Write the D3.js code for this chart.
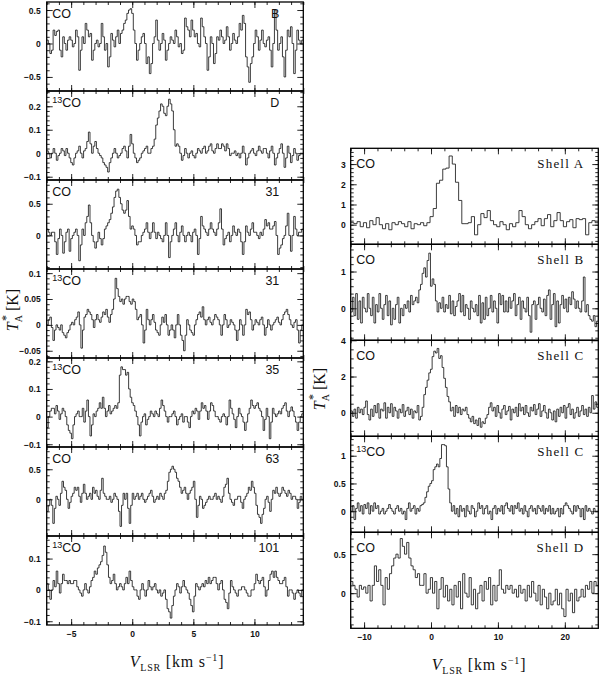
<!DOCTYPE html>
<html><head><meta charset="utf-8">
<script src="https://cdn.jsdelivr.net/npm/d3@7"></script>
<style>
body{margin:0;background:#fff;}
svg{display:block;}
.tl{font-family:"Liberation Sans",Arial,sans-serif;font-weight:bold;font-size:8.5px;fill:#111;}
.lab{font-family:"Liberation Sans",Arial,sans-serif;font-size:12.5px;fill:#111;}
.shell{font-family:"Liberation Serif","Times New Roman",serif;font-size:13px;letter-spacing:1.2px;fill:#111;}
.ttl{font-family:"Liberation Serif","Times New Roman",serif;font-size:16px;fill:#111;}
</style></head>
<body>
<svg id="c" width="600" height="678"></svg>
<script>
// ---------------- DATA ----------------
const leftVRange = [-7, 14];
const rightVRange = [-12, 25];
const leftXTicks = [-5, 0, 5, 10];
const rightXTicks = [-10, 0, 10, 20];

const spec_CO_B = [0.05,0.0,-0.15,-0.1,0.2,0.12,0.18,0.2,-0.1,-0.2,0.1,0.0,-0.1,0.05,0.1,0.05,-0.05,0.0,0.2,0.1,-0.4,-0.1,0.1,0.0,0.3,0.2,0.1,0.15,-0.25,-0.1,0.0,0.05,-0.05,0.0,0.3,0.1,-0.1,0.0,-0.35,-0.2,0.15,0.05,-0.05,0.1,0.2,0.0,0.15,0.2,0.3,0.35,0.45,0.5,0.52,0.45,0.2,0.0,-0.25,-0.1,0.0,0.1,0.15,0.0,-0.3,-0.2,-0.45,-0.3,0.0,0.1,0.35,0.05,-0.1,0.0,0.15,0.05,-0.25,-0.1,0.0,0.1,0.05,0.0,0.2,0.1,-0.05,0.0,-0.15,-0.1,0.38,0.25,0.2,0.1,0.35,0.2,0.1,0.15,0.0,-0.05,0.38,0.25,0.1,0.0,-0.4,-0.2,0.1,0.0,-0.3,-0.15,0.1,0.05,0.2,0.1,0.0,0.05,0.25,0.1,-0.1,0.0,0.15,0.05,0.0,0.1,0.3,0.2,0.42,0.3,-0.2,-0.35,-0.58,-0.3,-0.2,0.0,0.2,0.1,-0.1,0.05,0.2,0.0,-0.05,0.05,0.1,-0.1,-0.35,0.0,0.5,0.2,-0.1,0.0,0.1,-0.2,-0.5,-0.1,0.2,0.1,0.25,0.0,-0.45,-0.1,0.2,0.05,0.0,0.05];
const spec_13CO_D = [0.01,0.0,-0.02,0.0,0.02,0.0,-0.03,-0.01,0.0,0.02,0.01,-0.01,0.02,0.0,-0.02,-0.04,-0.05,-0.02,0.0,0.01,0.03,0.0,-0.02,0.01,0.02,0.05,0.09,0.04,0.0,0.03,0.05,0.02,0.0,-0.01,-0.02,-0.04,-0.05,-0.06,-0.08,-0.04,-0.02,0.0,0.02,0.0,-0.02,-0.01,0.0,0.02,0.03,0.01,-0.02,0.03,0.08,0.04,0.0,-0.02,-0.04,-0.03,-0.02,0.0,0.01,0.02,0.03,0.0,0.0,0.02,0.03,0.06,0.12,0.15,0.18,0.21,0.2,0.17,0.16,0.2,0.23,0.21,0.18,0.1,0.03,0.04,0.03,0.0,-0.03,-0.01,0.02,0.0,-0.02,0.0,0.01,-0.01,-0.02,0.0,0.02,0.01,0.0,0.02,0.03,0.0,0.01,0.03,0.04,0.01,0.0,0.02,0.04,0.02,0.02,0.04,0.03,0.01,0.04,0.02,-0.01,0.0,0.0,0.01,-0.01,0.0,-0.02,0.0,0.03,0.0,-0.05,-0.02,0.0,0.01,0.02,0.0,-0.01,0.01,0.03,0.01,0.0,0.02,0.02,0.0,-0.02,0.01,0.03,0.0,-0.05,-0.02,0.0,0.02,0.04,0.0,-0.06,-0.02,0.03,0.0,-0.04,-0.01,0.02,0.0,-0.03,-0.01,0.0,0.0];
const spec_CO_31 = [0.1,0.05,0.0,0.05,0.05,-0.1,-0.3,-0.05,0.1,0.0,-0.28,-0.1,0.05,0.1,-0.25,-0.05,0.0,0.05,0.1,0.0,-0.4,-0.15,0.1,0.0,0.2,0.3,0.48,0.2,0.0,-0.1,-0.2,-0.1,0.05,-0.05,-0.15,-0.05,0.1,0.15,0.2,0.25,0.35,0.45,0.6,0.7,0.73,0.6,0.5,0.4,0.35,0.4,0.55,0.3,0.1,0.15,0.1,0.0,-0.15,-0.1,-0.1,0.0,0.05,0.1,0.2,0.05,-0.05,0.05,0.2,0.05,-0.05,0.05,0.0,-0.05,-0.1,0.0,0.2,0.0,-0.35,-0.1,0.0,0.1,0.2,0.0,-0.1,0.05,0.15,0.0,-0.1,0.0,0.05,0.0,-0.1,0.05,0.1,0.0,-0.3,-0.05,0.3,0.15,0.1,0.05,0.0,0.1,0.2,0.1,0.05,0.0,0.1,0.2,0.42,0.1,-0.15,-0.05,0.0,0.05,-0.1,0.0,0.15,0.05,0.0,0.1,0.05,-0.1,-0.3,-0.1,0.15,0.05,0.0,0.1,0.2,0.05,0.05,0.0,-0.05,0.05,0.0,0.1,0.25,0.15,0.2,0.1,0.1,0.15,0.22,0.0,-0.3,-0.2,-0.15,-0.05,0.0,0.15,0.35,0.0,-0.25,0.0,0.3,0.1,0.0,0.05,0.05,0.1];
const spec_13CO_31 = [0.0,0.01,0.015,-0.005,-0.03,-0.01,0.0,-0.005,-0.01,0.0,-0.015,-0.02,-0.025,-0.015,-0.01,0.0,0.005,0.0,0.01,0.015,0.025,0.0,-0.045,-0.01,0.015,0.02,0.03,0.025,0.02,0.01,-0.005,0.01,0.02,0.01,0.005,0.015,0.025,0.02,0.03,0.015,0.005,0.02,0.03,0.05,0.09,0.07,0.055,0.045,0.05,0.04,0.05,0.055,0.055,0.045,0.04,0.05,0.045,0.03,0.01,0.015,0.02,0.0,-0.035,-0.01,0.03,0.01,0.0,0.01,0.02,0.005,-0.01,-0.015,-0.02,0.0,0.015,0.005,0.02,0.0,-0.02,-0.01,0.0,-0.01,-0.025,0.0,0.02,0.0,-0.02,-0.03,-0.05,-0.02,0.01,0.0,-0.01,-0.015,-0.02,0.0,0.01,0.02,0.025,0.015,0.035,0.01,0.0,0.01,0.015,0.005,0.0,0.01,0.02,0.015,0.01,0.0,-0.02,0.0,0.02,0.01,-0.005,0.0,0.01,0.005,0.0,-0.01,-0.03,-0.01,0.01,0.0,-0.02,0.0,0.03,0.02,0.025,0.01,-0.01,0.0,0.01,0.005,0.0,0.01,0.015,0.0,-0.02,-0.005,0.01,0.0,-0.01,0.0,0.005,0.01,0.015,0.005,0.0,0.01,0.02,0.025,0.03,0.02,0.01,0.0,-0.005,0.005,0.01,-0.01,-0.035,-0.01,0.0];
const spec_13CO_35 = [-0.04,0.0,0.02,0.03,0.03,0.01,0.04,0.02,-0.01,0.01,0.03,0.02,0.0,-0.03,-0.05,-0.06,-0.08,-0.03,0.0,0.01,0.02,0.0,0.0,0.03,-0.02,0.02,0.06,0.0,-0.07,-0.03,0.01,0.0,0.02,0.03,0.05,0.03,0.07,0.03,0.0,0.02,0.04,0.01,0.02,0.03,0.04,0.03,0.05,0.15,0.18,0.17,0.17,0.15,0.16,0.1,0.07,0.05,0.04,0.02,0.0,-0.03,-0.07,-0.02,0.0,0.01,-0.03,-0.01,0.0,0.02,0.01,0.0,0.02,0.01,0.0,0.03,0.06,0.04,0.02,0.0,-0.02,0.0,0.0,0.01,0.02,0.0,-0.03,-0.01,0.0,0.01,-0.02,0.0,0.0,-0.02,-0.04,0.0,0.02,0.01,0.03,0.02,-0.01,0.02,0.05,0.03,0.04,0.02,-0.01,0.02,0.05,0.04,0.02,0.0,0.0,-0.01,-0.02,0.0,0.01,0.0,-0.03,0.0,0.06,0.03,0.01,-0.01,-0.04,0.0,0.03,0.01,0.0,-0.02,-0.05,-0.02,0.01,0.03,0.06,0.04,0.03,0.04,0.05,0.03,0.02,0.0,-0.05,-0.01,0.03,0.0,-0.08,-0.02,0.03,0.01,0.0,0.01,0.02,0.01,0.03,0.04,0.05,0.02,0.0,0.02,0.035,0.02,0.0,-0.02,-0.05,-0.02,0.0,0.01];
const spec_CO_63 = [-0.2,-0.1,0.0,-0.1,-0.4,-0.15,0.05,0.0,-0.1,0.1,0.3,0.2,0.15,0.0,-0.15,-0.05,0.05,0.1,0.2,0.15,0.2,0.05,-0.05,0.1,0.25,0.1,0.0,0.05,0.1,0.0,0.2,0.1,0.15,0.05,0.0,0.15,0.35,0.1,0.05,0.0,0.0,0.05,-0.05,0.0,0.1,0.05,0.0,-0.2,-0.45,-0.1,0.1,0.0,0.1,-0.15,-0.4,-0.1,0.1,0.0,0.05,0.1,0.0,0.05,0.1,0.0,-0.05,0.0,0.05,0.1,0.15,0.05,-0.05,0.0,0.05,0.0,0.1,0.05,0.0,0.1,0.15,0.3,0.45,0.5,0.55,0.5,0.45,0.35,0.3,0.2,0.1,0.15,0.2,0.1,0.0,0.1,0.15,0.2,0.3,0.0,-0.3,-0.1,0.05,0.0,-0.15,-0.1,-0.05,0.0,0.05,0.0,0.0,0.05,0.1,0.0,0.05,0.0,-0.05,0.05,0.2,0.25,0.35,0.1,0.0,-0.05,-0.1,0.0,0.0,0.05,0.05,-0.05,-0.15,0.0,0.05,0.1,0.2,0.15,0.3,0.2,0.1,-0.1,-0.25,-0.3,-0.4,-0.25,-0.15,0.0,0.05,-0.05,-0.2,0.0,0.15,0.1,0.2,0.1,0.05,0.1,0.2,0.15,0.1,0.05,0.15,0.1,0.0,0.05,0.05,0.0,-0.15,-0.05,0.05,0.0];
const spec_13CO_101 = [0.02,0.0,-0.03,0.0,0.03,0.01,0.06,0.02,-0.01,0.02,0.05,0.03,0.03,0.02,0.03,0.02,0.02,0.03,0.03,0.01,0.0,-0.01,-0.02,0.0,0.02,0.0,-0.01,0.01,0.03,0.04,0.06,0.05,0.07,0.08,0.09,0.11,0.14,0.12,0.08,0.04,0.02,0.03,0.05,0.02,0.0,0.01,0.02,0.01,0.0,0.02,0.04,0.02,0.06,0.03,0.01,0.0,0.0,-0.02,-0.03,0.0,0.02,0.0,-0.02,0.0,0.03,0.01,0.0,0.01,0.02,0.0,-0.01,0.0,-0.02,-0.01,0.0,-0.03,-0.06,-0.07,-0.09,-0.05,-0.02,0.0,0.02,0.01,-0.01,0.01,0.03,0.01,0.0,-0.01,-0.03,-0.05,-0.07,-0.02,0.02,0.01,0.0,0.01,0.02,0.01,0.03,0.02,0.04,0.02,0.03,0.04,0.04,0.02,0.0,0.02,0.03,0.0,-0.03,-0.04,-0.06,-0.01,0.03,0.01,0.0,-0.01,-0.02,0.0,0.0,0.01,0.01,0.0,-0.01,-0.02,-0.02,0.0,0.0,0.02,0.05,0.03,0.02,0.03,0.04,0.01,-0.02,0.0,0.03,0.05,0.06,0.04,0.06,0.04,0.03,0.02,0.02,0.03,0.04,0.01,-0.02,0.0,0.0,-0.01,-0.03,-0.01,0.0,-0.01,-0.02,0.0];

const spec_CO_ShellA = [0.1,0.05,0.15,-0.1,0.1,-0.15,0.2,0.0,0.35,0.0,-0.2,0.05,-0.25,0.1,0.0,0.15,0.05,-0.1,0.15,-0.2,0.05,0.0,0.1,-0.05,0.1,0.4,0.8,2.05,2.2,2.75,2.8,3.4,3.0,2.1,1.2,0.05,0.05,0.1,0.4,-0.5,0.0,0.55,0.35,0.7,0.2,0.0,-0.1,0.15,0.0,-0.25,0.05,-0.1,0.1,0.7,0.4,0.0,-0.2,0.0,0.15,0.3,-0.05,0.3,0.5,-0.1,0.2,0.6,0.2,-0.1,0.15,0.25,-0.15,0.3,0.25,0.3,-0.5,0.1,0.2,0.1];
const spec_CO_ShellB = [-0.1,0.3,-0.2,0.4,-0.3,0.2,-0.4,0.3,0.0,-0.1,0.4,0.0,-0.2,0.3,-0.4,0.1,-0.1,0.4,0.0,-0.3,0.1,0.35,-0.2,0.2,-0.45,0.0,-0.3,0.1,0.3,-0.4,0.0,-0.2,0.1,0.0,0.2,-0.1,0.35,0.1,0.2,0.3,0.15,0.5,0.65,0.95,1.1,0.85,1.3,1.5,0.6,0.8,0.65,0.2,-0.1,0.15,0.0,0.3,-0.1,0.1,0.0,0.35,-0.15,0.2,-0.2,0.05,0.2,0.4,-0.1,0.35,-0.2,0.1,0.0,-0.3,0.2,0.0,-0.1,0.1,-0.2,0.35,-0.4,0.15,-0.3,0.3,-0.2,0.0,0.35,-0.1,0.2,0.0,-0.4,0.4,0.1,0.35,-0.1,0.2,-0.1,0.3,0.0,0.2,0.4,-0.2,0.1,0.3,-0.3,0.2,0.0,-0.1,0.3,-0.2,-0.65,0.1,0.2,-0.3,0.1,0.3,0.0,-0.1,0.25,-0.2,0.35,0.5,-0.3,0.1,0.4,-0.5,0.2,-0.4,0.1,0.35,0.0,0.25,-0.1,0.3,0.1,0.45,0.25,0.0,0.2,0.0,-0.1,0.2,0.85,-0.1,0.1,-0.2,-0.3,-0.35,-0.2,-0.5,-0.35];
const spec_CO_ShellC = [0.1,-0.2,0.2,-0.3,0.3,0.0,0.2,-0.1,0.3,0.65,-0.1,-0.4,0.2,-0.2,0.4,0.0,0.5,-0.3,0.2,0.1,0.55,-0.3,0.3,0.0,0.5,-0.2,0.3,0.1,-0.3,0.2,0.0,0.45,-0.2,0.1,0.3,-0.1,0.2,-0.3,0.1,0.0,0.4,-0.4,-0.2,0.3,1.0,1.4,1.8,2.2,2.4,3.1,3.4,3.3,3.55,3.0,3.15,2.5,1.9,1.4,0.9,0.6,0.1,0.3,-0.2,0.4,0.0,0.3,-0.1,0.2,0.1,0.3,-0.1,-0.3,-0.5,-0.2,-0.6,-0.4,-0.7,-0.3,-0.8,-0.5,-0.6,-0.3,-0.1,0.3,0.55,0.1,0.3,-0.2,0.4,0.0,-0.3,0.2,0.4,-0.1,0.1,0.35,-0.4,0.2,0.0,0.3,-0.2,0.5,0.1,0.3,-0.1,0.4,0.0,-0.2,0.3,0.1,0.45,-0.1,0.2,0.5,-0.2,0.1,0.4,0.0,-0.3,0.2,0.0,-0.4,0.1,-0.5,0.2,-0.2,0.3,0.0,0.4,-0.3,0.3,0.5,-0.1,0.2,-0.3,0.0,0.3,-0.2,0.1,0.4,-0.1,0.2,-0.2,0.3,0.0,0.95,0.2,0.6,0.3];
const spec_13CO_ShellC = [0.0,0.1,-0.15,0.05,0.15,0.0,0.1,-0.05,0.12,0.05,0.15,-0.05,0.1,0.0,0.15,0.05,0.1,-0.05,0.0,0.05,-0.05,0.0,0.05,0.12,0.05,0.0,-0.05,0.05,0.1,0.0,0.05,-0.05,0.0,-0.15,0.05,0.15,0.0,0.05,0.1,-0.05,0.05,0.0,0.1,0.12,0.15,0.25,0.35,0.45,0.5,0.55,0.75,0.8,0.85,0.8,0.95,1.2,1.2,1.18,0.8,0.4,0.15,0.0,0.1,-0.05,0.05,-0.1,0.1,0.0,0.05,-0.1,0.1,0.0,-0.05,0.1,0.05,-0.1,0.0,0.15,0.05,0.1,-0.05,0.05,0.1,-0.05,0.0,-0.15,0.05,0.1,-0.05,0.05,0.0,0.1,-0.05,0.1,0.15,0.05,0.0,0.1,-0.05,0.1,0.05,0.15,0.0,0.05,-0.05,0.1,0.0,-0.1,0.05,0.1,0.0,0.05,-0.05,0.1,0.05,0.0,0.1,-0.05,0.05,0.0,0.1,-0.05,0.05,-0.05,0.0,0.05,-0.1,0.05,-0.05,0.1,0.15,0.1,0.05,0.0,-0.05,0.1,0.0,0.1,0.05,-0.1,0.05,-0.15,0.1,0.0,0.05,0.0,-0.05,0.05,0.0,0.0];
const spec_CO_ShellD = [0.15,0.1,0.05,-0.05,0.1,0.05,0.08,0.0,0.1,-0.1,0.1,0.35,0.15,0.3,0.1,-0.15,0.2,0.05,0.25,0.35,0.45,0.5,0.45,0.7,0.6,0.5,0.65,0.45,0.35,0.3,0.2,0.25,0.1,0.1,0.25,0.0,0.05,0.2,0.0,0.15,-0.2,0.05,0.2,-0.05,0.1,-0.1,0.05,-0.15,0.1,-0.05,0.15,-0.2,0.25,0.0,-0.05,0.2,-0.15,0.05,-0.2,0.0,0.1,-0.1,0.15,0.05,0.2,-0.15,0.1,-0.1,0.1,0.3,0.05,0.0,0.1,0.05,0.1,0.0,0.05,-0.05,0.1,0.0,0.05,-0.1,0.1,-0.05,0.15,0.0,-0.1,0.1,-0.15,0.05,-0.05,-0.2,0.0,-0.15,-0.1,0.05,-0.15,0.0,-0.2,-0.3,0.05,-0.1,0.0,-0.25,0.05,-0.1,-0.05,0.05,-0.05,0.1,0.05,0.15,0.0,0.15,0.1];

// panel descriptors: iso label, source label, y-range, major y ticks, minor step
const leftIso   = ["CO","13CO","CO","13CO","13CO","CO","13CO"];
const leftName  = ["B","D","31","31","35","63","101"];
const leftSpec  = [spec_CO_B, spec_13CO_D, spec_CO_31, spec_13CO_31, spec_13CO_35, spec_CO_63, spec_13CO_101];
const leftYRange = [[-0.71,0.62],[-0.114,0.265],[-0.53,0.875],[-0.064,0.108],[-0.11,0.212],[-0.61,0.87],[-0.112,0.172]];
const leftYTicks = [[-0.5,0,0.5],[-0.1,0,0.1,0.2],[0,0.5],[-0.05,0,0.05,0.1],[-0.1,0,0.1,0.2],[0,0.5],[-0.1,0,0.1]];
const leftYMinor = [0.1,0.02,0.1,0.01,0.02,0.1,0.02];

const rightIso  = ["CO","CO","CO","13CO","CO"];
const rightName = ["Shell A","Shell B","Shell C","Shell C","Shell D"];
const rightSpec = [spec_CO_ShellA, spec_CO_ShellB, spec_CO_ShellC, spec_13CO_ShellC, spec_CO_ShellD];
const rightYRange = [[-0.97,3.78],[-0.87,1.74],[-1.3,4.0],[-0.38,1.35],[-0.45,0.78]];
const rightYTicks = [[0,1,2,3],[0,1],[0,2,4],[0,0.5,1],[0,0.5]];
const rightYMinor = [0.2,0.2,0.5,0.1,0.1];

// ---------------- LAYOUT ----------------
const svg = d3.select("#c");
const L = {x0:46.7, x1:303.3, top:2, h:89, minorX:1, labX:5.5, labY:16, nameOff:24};
const R = {x0:350.7, x1:598.3, top:148.3, h:96, minorX:2, labX:5.5, labY:20, nameOff:14};

function fmt(v){ return v===0 ? "0" : (v<0 ? "\u2212"+String(Math.abs(v)) : String(v)); }

function column(C, vRange, xTicks, isoL, nameL, specs, yR, yT, yM, cls){
  const x = d3.scaleLinear().domain(vRange).range([C.x0, C.x1]);
  const xMinor = d3.range(Math.ceil(vRange[0]/C.minorX)*C.minorX, vRange[1]+1e-9, C.minorX);
  specs.forEach((spec, i) => {
    const top = C.top + i*C.h, bot = top + C.h;
    const y = d3.scaleLinear().domain(yR[i]).range([bot, top]);
    const g = svg.append("g");
    const cid = "clip"+cls+i;
    g.append("clipPath").attr("id", cid).append("rect")
      .attr("x", C.x0).attr("y", top).attr("width", C.x1-C.x0).attr("height", C.h);
    // spectrum as histogram steps
    const n = spec.length, dv = (vRange[1]-vRange[0])/n;
    const pts = spec.map((t, k) => [vRange[0]+k*dv, t]);
    pts.push([vRange[1], spec[n-1]]);
    const line = d3.line().x(d => x(d[0])).y(d => y(d[1])).curve(d3.curveStepAfter);
    g.append("path").attr("clip-path", `url(#${cid})`).attr("d", line(pts))
      .attr("fill","none").attr("stroke","#1a1a1a").attr("stroke-width",0.85);
    // axes (inward ticks on all four sides)
    const yMin = d3.range(Math.ceil(yR[i][0]/yM[i]-1e-9)*yM[i], yR[i][1], yM[i]).filter(v => v>yR[i][0] && v<yR[i][1]);
    const mk = (ax) => ax.call(s => s.select(".domain").remove()).call(s => s.selectAll("line").attr("stroke","#111").attr("stroke-width",0.9));
    mk(g.append("g").attr("transform",`translate(0,${bot})`).call(d3.axisBottom(x).tickValues(xMinor).tickSize(-3).tickFormat("")));
    mk(g.append("g").attr("transform",`translate(0,${top})`).call(d3.axisTop(x).tickValues(xMinor).tickSize(-3).tickFormat("")));
    mk(g.append("g").attr("transform",`translate(0,${bot})`).call(d3.axisBottom(x).tickValues(xTicks).tickSize(-6).tickFormat("")));
    mk(g.append("g").attr("transform",`translate(0,${top})`).call(d3.axisTop(x).tickValues(xTicks).tickSize(-6).tickFormat("")));
    mk(g.append("g").attr("transform",`translate(${C.x0},0)`).call(d3.axisLeft(y).tickValues(yMin).tickSize(-3).tickFormat("")));
    mk(g.append("g").attr("transform",`translate(${C.x1},0)`).call(d3.axisRight(y).tickValues(yMin).tickSize(-3).tickFormat("")));
    const ya = g.append("g").attr("transform",`translate(${C.x0},0)`)
      .call(d3.axisLeft(y).tickValues(yT[i]).tickSize(-6).tickPadding(cls==="L"?6:5).tickFormat(fmt));
    mk(ya); ya.selectAll("text").attr("class","tl").attr("dy","0.35em");
    mk(g.append("g").attr("transform",`translate(${C.x1},0)`).call(d3.axisRight(y).tickValues(yT[i]).tickSize(-6).tickFormat("")));
    // frame
    g.append("rect").attr("x",C.x0).attr("y",top).attr("width",C.x1-C.x0).attr("height",C.h)
      .attr("fill","none").attr("stroke","#000").attr("stroke-width",1.3);
    // labels
    const t = g.append("text").attr("class","lab").attr("x",C.x0+C.labX).attr("y",top+C.labY);
    if (isoL[i]==="13CO") {
      t.append("tspan").attr("font-size","9px").attr("dy",-4).text("13");
      t.append("tspan").attr("dy",4).text("CO");
    } else t.text(isoL[i]);
    g.append("text").attr("class", cls==="L" ? "lab" : "shell").attr("text-anchor","end")
      .attr("x", C.x1 - C.nameOff).attr("y", top + C.labY).text(nameL[i]);
    if (i === specs.length-1) {
      g.append("g").attr("transform",`translate(0,${bot})`)
        .call(d3.axisBottom(x).tickValues(xTicks).tickSize(0).tickPadding(6).tickFormat(fmt))
        .call(s => s.select(".domain").remove())
        .selectAll("text").attr("class","tl");
    }
  });
}

column(L, leftVRange, leftXTicks, leftIso, leftName, leftSpec, leftYRange, leftYTicks, leftYMinor, "L");
column(R, rightVRange, rightXTicks, rightIso, rightName, rightSpec, rightYRange, rightYTicks, rightYMinor, "R");

// axis titles
function xTitle(cx, by){
  const t = svg.append("text").attr("class","ttl").attr("x",cx).attr("y",by)
    .attr("text-anchor","middle").attr("letter-spacing","0.8px");
  t.append("tspan").attr("font-style","italic").text("V");
  t.append("tspan").attr("font-size","10px").attr("dy",4).text("LSR");
  t.append("tspan").attr("dy",-4).text(" [km s");
  t.append("tspan").attr("font-size","10px").attr("dy",-6).text("\u22121");
  t.append("tspan").attr("dy",6).text("]");
}
function yTitle(bx, cy){
  const t = svg.append("text").attr("class","ttl").attr("text-anchor","middle")
    .attr("transform",`translate(${bx},${cy}) rotate(-90)`);
  t.append("tspan").attr("font-style","italic").text("T");
  t.append("tspan").attr("font-size","10px").attr("dy",4).text("A");
  t.append("tspan").attr("font-size","12px").attr("dx",-6).attr("dy",-12).text("*");
  t.append("tspan").attr("dy",8).text(" [K]");
}
xTitle(177, 667);
xTitle(479, 670);
yTitle(18, 310);
yTitle(325, 389);
</script>
</body></html>
